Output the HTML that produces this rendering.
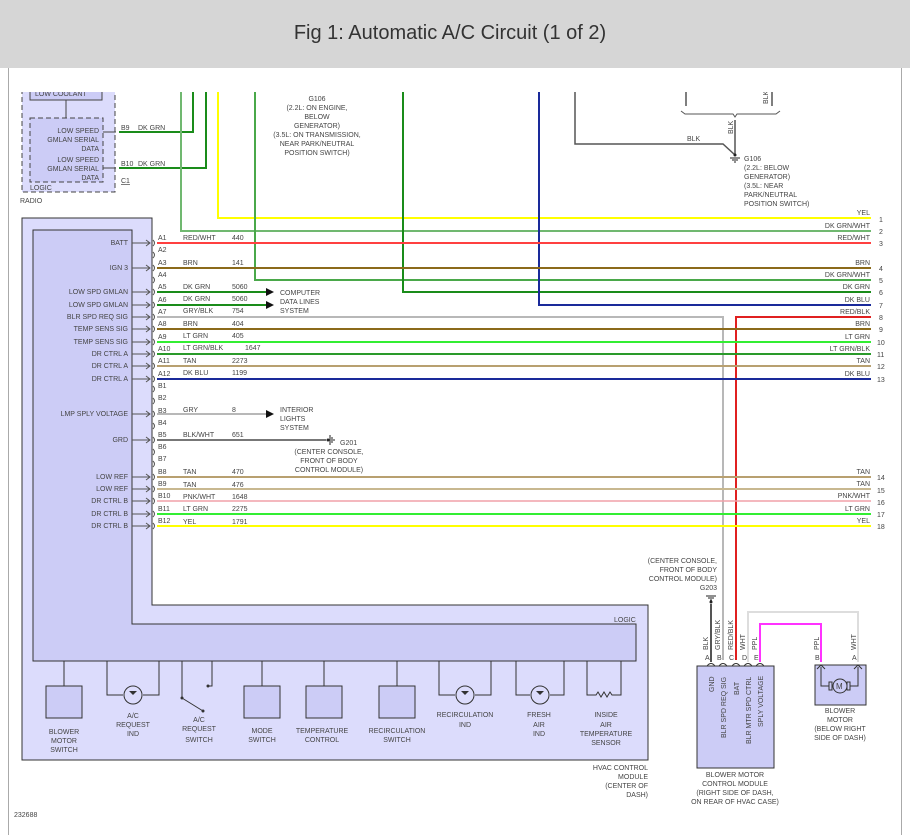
<!DOCTYPE html>
<html><head><meta charset="utf-8"><style>
body{margin:0;background:#fff;width:910px;height:835px;overflow:hidden}
svg{display:block}
text{font-family:"Liberation Sans",sans-serif;font-size:7px;fill:#444}
.t{font-size:20px;fill:#333}
</style></head><body>
<svg width="910" height="835" viewBox="0 0 910 835" xmlns="http://www.w3.org/2000/svg">
<rect x="0" y="0" width="910" height="68" fill="#d6d6d6"/>
<text class="t" x="450" y="39" text-anchor="middle">Fig 1: Automatic A/C Circuit (1 of 2)</text>

<!-- Radio -->
<rect x="22" y="84" width="93" height="108" fill="#dcdcfc" stroke="#444" stroke-dasharray="5,3"/>
<rect x="30" y="86" width="72" height="14" fill="#ccccf6" stroke="#444"/>
<text x="35" y="96">LOW COOLANT</text>
<line x1="66" y1="100" x2="66" y2="118" stroke="#444"/>
<rect x="30" y="118" width="73" height="64" fill="#ccccf6" stroke="#444" stroke-dasharray="5,3"/>
<g text-anchor="end"><text x="99" y="133">LOW SPEED</text><text x="99" y="142">GMLAN SERIAL</text><text x="99" y="151">DATA</text>
<text x="99" y="162">LOW SPEED</text><text x="99" y="171">GMLAN SERIAL</text><text x="99" y="180">DATA</text></g>
<text x="30" y="190">LOGIC</text><text x="20" y="203">RADIO</text>
<path d="M103 132h13M103 168h13" stroke="#444"/>
<text x="121" y="130">B9</text><text x="138" y="130">DK GRN</text>
<text x="121" y="166">B10</text><text x="138" y="166">DK GRN</text>
<text x="121" y="183" text-decoration="underline">C1</text>
<path d="M119 132H193V88M119 168H206V88" stroke="#1a8c1a" stroke-width="2" fill="none"/>

<!-- verticals from top -->
<path d="M181 88V231H871" stroke="#70b870" stroke-width="2" fill="none"/>
<path d="M218 88V218H871" stroke="#ffff00" stroke-width="2" fill="none"/>
<path d="M255 88V280H871" stroke="#4aa84a" stroke-width="2" fill="none"/>
<path d="M403 88V292H871" stroke="#1a8c1a" stroke-width="2" fill="none"/>
<path d="M539 88V305H871" stroke="#1a2a9a" stroke-width="2" fill="none"/>
<g text-anchor="middle"><text x="317" y="101">G106</text><text x="317" y="110">(2.2L: ON ENGINE,</text><text x="317" y="119">BELOW</text><text x="317" y="128">GENERATOR)</text><text x="317" y="137">(3.5L: ON TRANSMISSION,</text><text x="317" y="146">NEAR PARK/NEUTRAL</text><text x="317" y="155">POSITION SWITCH)</text></g>
<path d="M575 88V144H723L735 155M686 88V106M772 88V106M735 120V155" stroke="#555" stroke-width="1.5" fill="none"/>
<path d="M681 111l4 3H733l2 3l2-3H776l4-3" stroke="#555" fill="none"/>
<text x="687" y="141">BLK</text>
<text transform="translate(733,134) rotate(-90)">BLK</text>
<text transform="translate(768,104) rotate(-90)">BLK</text>
<path d="M730 158h10M732 160h6M734 162h2" stroke="#222"/><circle cx="735" cy="155" r="1.5" fill="#222"/>
<text x="744" y="161">G106</text><text x="744" y="170">(2.2L: BELOW</text><text x="744" y="179">GENERATOR)</text><text x="744" y="188">(3.5L: NEAR</text><text x="744" y="197">PARK/NEUTRAL</text><text x="744" y="206">POSITION SWITCH)</text>

<!-- clip top -->
<rect x="0" y="68" width="910" height="24" fill="#fff"/>
<line x1="8.5" y1="68" x2="8.5" y2="835" stroke="#aaa"/>
<line x1="901.5" y1="68" x2="901.5" y2="835" stroke="#aaa"/>

<!-- HVAC module -->
<path d="M22 218H152V605H648V760H22Z" fill="#dcdcfc" stroke="#333"/>
<path d="M33 230H132V624H636V661H33Z" fill="#ccccf6" stroke="#333"/>
<text x="614" y="622">LOGIC</text>
<g text-anchor="end">
<text x="128" y="245">BATT</text><text x="128" y="270">IGN 3</text><text x="128" y="294">LOW SPD GMLAN</text><text x="128" y="307">LOW SPD GMLAN</text><text x="128" y="319">BLR SPD REQ SIG</text><text x="128" y="331">TEMP SENS SIG</text><text x="128" y="344">TEMP SENS SIG</text><text x="128" y="356">DR CTRL A</text><text x="128" y="368">DR CTRL A</text><text x="128" y="381">DR CTRL A</text>
<text x="128" y="416">LMP SPLY VOLTAGE</text><text x="128" y="442">GRD</text><text x="128" y="479">LOW REF</text><text x="128" y="491">LOW REF</text><text x="128" y="503">DR CTRL B</text><text x="128" y="516">DR CTRL B</text><text x="128" y="528">DR CTRL B</text></g>
<g stroke="#555" fill="none">
<path d="M132 243h18M132 268h18M132 292h18M132 305h18M132 317h18M132 329h18M132 342h18M132 354h18M132 366h18M132 379h18M132 414h18M132 440h18M132 477h18M132 489h18M132 501h18M132 514h18M132 526h18"/>
<path d="M146 240l4 3l-4 3M146 265l4 3l-4 3M146 289l4 3l-4 3M146 302l4 3l-4 3M146 314l4 3l-4 3M146 326l4 3l-4 3M146 339l4 3l-4 3M146 351l4 3l-4 3M146 363l4 3l-4 3M146 376l4 3l-4 3M146 411l4 3l-4 3M146 437l4 3l-4 3M146 474l4 3l-4 3M146 486l4 3l-4 3M146 498l4 3l-4 3M146 511l4 3l-4 3M146 523l4 3l-4 3"/>
<path d="M153 240q3 3 0 6M153 252q3 3 0 6M153 265q3 3 0 6M153 277q3 3 0 6M153 289q3 3 0 6M153 302q3 3 0 6M153 314q3 3 0 6M153 326q3 3 0 6M153 339q3 3 0 6M153 351q3 3 0 6M153 363q3 3 0 6M153 376q3 3 0 6M153 386q3 3 0 6M153 398q3 3 0 6M153 411q3 3 0 6M153 423q3 3 0 6M153 437q3 3 0 6M153 449q3 3 0 6M153 461q3 3 0 6M153 474q3 3 0 6M153 486q3 3 0 6M153 498q3 3 0 6M153 511q3 3 0 6M153 523q3 3 0 6"/>
</g>
<g>
<text x="158" y="240">A1</text><text x="158" y="252">A2</text><text x="158" y="265">A3</text><text x="158" y="277">A4</text><text x="158" y="289">A5</text><text x="158" y="302">A6</text><text x="158" y="314">A7</text><text x="158" y="326">A8</text><text x="158" y="339">A9</text><text x="158" y="351">A10</text><text x="158" y="363">A11</text><text x="158" y="376">A12</text>
<text x="158" y="388">B1</text><text x="158" y="400">B2</text><text x="158" y="413">B3</text><text x="158" y="425">B4</text><text x="158" y="437">B5</text><text x="158" y="449">B6</text><text x="158" y="461">B7</text><text x="158" y="474">B8</text><text x="158" y="486">B9</text><text x="158" y="498">B10</text><text x="158" y="511">B11</text><text x="158" y="523">B12</text>
<text x="183" y="240">RED/WHT</text><text x="232" y="240">440</text>
<text x="183" y="265">BRN</text><text x="232" y="265">141</text>
<text x="183" y="289">DK GRN</text><text x="232" y="289">5060</text>
<text x="183" y="301">DK GRN</text><text x="232" y="301">5060</text>
<text x="183" y="313">GRY/BLK</text><text x="232" y="313">754</text>
<text x="183" y="326">BRN</text><text x="232" y="326">404</text>
<text x="183" y="338">LT GRN</text><text x="232" y="338">405</text>
<text x="183" y="350">LT GRN/BLK</text><text x="245" y="350">1647</text>
<text x="183" y="363">TAN</text><text x="232" y="363">2273</text>
<text x="183" y="375">DK BLU</text><text x="232" y="375">1199</text>
<text x="183" y="412">GRY</text><text x="232" y="412">8</text>
<text x="183" y="437">BLK/WHT</text><text x="232" y="437">651</text>
<text x="183" y="474">TAN</text><text x="232" y="474">470</text>
<text x="183" y="487">TAN</text><text x="232" y="487">476</text>
<text x="183" y="499">PNK/WHT</text><text x="232" y="499">1648</text>
<text x="183" y="511">LT GRN</text><text x="232" y="511">2275</text>
<text x="183" y="524">YEL</text><text x="232" y="524">1791</text>
</g>
<!-- harness wires -->
<g fill="none" stroke-width="2">
<path d="M157 243H871" stroke="#ff4040"/>
<path d="M157 268H871" stroke="#8b6a1a"/>
<path d="M157 292H266M157 305H266" stroke="#1a8c1a"/>
<path d="M157 317H723V660" stroke="#b8b8b8"/>
<path d="M871 317H736V660" stroke="#e02020"/>
<path d="M157 329H871" stroke="#8b6a1a"/>
<path d="M157 342H871" stroke="#33ee33"/>
<path d="M157 354H871" stroke="#2a9a2a"/>
<path d="M157 366H871" stroke="#b8a070"/>
<path d="M157 379H871" stroke="#1a2a9a"/>
<path d="M157 414H266" stroke="#b8b8b8"/>
<path d="M157 440H326" stroke="#777"/>
<path d="M157 477H871" stroke="#b8a070"/>
<path d="M157 489H871" stroke="#c8b890"/>
<path d="M157 501H871" stroke="#f0a0a8" stroke-width="1.5"/>
<path d="M157 514H871" stroke="#33ee33"/>
<path d="M157 526H871" stroke="#ffff00"/>
</g>
<path d="M266 288l8 4l-8 4ZM266 301l8 4l-8 4ZM266 410l8 4l-8 4Z" fill="#111"/>
<text x="280" y="295">COMPUTER</text><text x="280" y="304">DATA LINES</text><text x="280" y="313">SYSTEM</text>
<text x="280" y="412">INTERIOR</text><text x="280" y="421">LIGHTS</text><text x="280" y="430">SYSTEM</text>
<path d="M330 435v10M332 437v6M334 439v2" stroke="#222"/><circle cx="328" cy="440" r="1.5" fill="#222"/>
<text x="340" y="445">G201</text>
<g text-anchor="middle"><text x="329" y="454">(CENTER CONSOLE,</text><text x="329" y="463">FRONT OF BODY</text><text x="329" y="472">CONTROL MODULE)</text></g>
<!-- right labels -->
<g text-anchor="end">
<text x="870" y="215">YEL</text><text x="870" y="228">DK GRN/WHT</text><text x="870" y="240">RED/WHT</text><text x="870" y="265">BRN</text><text x="870" y="277">DK GRN/WHT</text><text x="870" y="289">DK GRN</text><text x="870" y="302">DK BLU</text><text x="870" y="314">RED/BLK</text><text x="870" y="326">BRN</text><text x="870" y="339">LT GRN</text><text x="870" y="351">LT GRN/BLK</text><text x="870" y="363">TAN</text><text x="870" y="376">DK BLU</text>
<text x="870" y="474">TAN</text><text x="870" y="486">TAN</text><text x="870" y="498">PNK/WHT</text><text x="870" y="511">LT GRN</text><text x="870" y="523">YEL</text></g>
<g>
<text x="879" y="222">1</text><text x="879" y="234">2</text><text x="879" y="246">3</text><text x="879" y="271">4</text><text x="879" y="283">5</text><text x="879" y="295">6</text><text x="879" y="308">7</text><text x="879" y="320">8</text><text x="879" y="332">9</text><text x="877" y="345">10</text><text x="877" y="357">11</text><text x="877" y="369">12</text><text x="877" y="382">13</text><text x="877" y="480">14</text><text x="877" y="493">15</text><text x="877" y="505">16</text><text x="877" y="517">17</text><text x="877" y="529">18</text></g>

<!-- bottom components -->
<g fill="#ccccf6" stroke="#333">
<rect x="46" y="686" width="36" height="32"/><rect x="244" y="686" width="36" height="32"/><rect x="306" y="686" width="36" height="32"/><rect x="379" y="686" width="36" height="32"/>
</g>
<g stroke="#333" fill="none">
<path d="M64 661v25M262 661v25M324 661v25M397 661v25"/>
<path d="M107 661v34h16M143 695h16v-34"/><circle cx="133" cy="695" r="9"/>
<path d="M439 661v34h16M475 695h16v-34"/><circle cx="465" cy="695" r="9"/>
<path d="M516 661v34h14M550 695h14v-34"/><circle cx="540" cy="695" r="9"/>
<path d="M182 661v37M182 698l21 13M212 661v25h-4"/>
<path d="M587 661v34h9l2-3 3 5 3-5 3 5 3-5 2 3h9v-34"/>
</g>
<path d="M129 691l4 4l4-4ZM461 691l4 4l4-4ZM536 691l4 4l4-4" fill="#333"/>
<circle cx="182" cy="698" r="1.5" fill="#333"/><circle cx="203" cy="711" r="1.5" fill="#333"/><circle cx="208" cy="686" r="1.5" fill="#333"/>
<g text-anchor="middle">
<text x="64" y="734">BLOWER</text><text x="64" y="743">MOTOR</text><text x="64" y="752">SWITCH</text>
<text x="133" y="718">A/C</text><text x="133" y="727">REQUEST</text><text x="133" y="736">IND</text>
<text x="199" y="722">A/C</text><text x="199" y="731">REQUEST</text><text x="199" y="742">SWITCH</text>
<text x="262" y="733">MODE</text><text x="262" y="742">SWITCH</text>
<text x="322" y="733">TEMPERATURE</text><text x="322" y="742">CONTROL</text>
<text x="397" y="733">RECIRCULATION</text><text x="397" y="742">SWITCH</text>
<text x="465" y="717">RECIRCULATION</text><text x="465" y="727">IND</text>
<text x="539" y="717">FRESH</text><text x="539" y="727">AIR</text><text x="539" y="736">IND</text>
<text x="606" y="717">INSIDE</text><text x="606" y="727">AIR</text><text x="606" y="736">TEMPERATURE</text><text x="606" y="745">SENSOR</text>
</g>
<g text-anchor="end"><text x="648" y="770">HVAC CONTROL</text><text x="648" y="779">MODULE</text><text x="648" y="788">(CENTER OF</text><text x="648" y="797">DASH)</text></g>
<text x="14" y="817">232688</text>

<!-- BMCM -->
<g text-anchor="end"><text x="717" y="563">(CENTER CONSOLE,</text><text x="717" y="572">FRONT OF BODY</text><text x="717" y="581">CONTROL MODULE)</text><text x="717" y="590">G203</text></g>
<path d="M706 596h10M708 598h6M710 600h2" stroke="#222"/><circle cx="711" cy="602" r="1.5" fill="#222"/>
<path d="M711 604V662" stroke="#555" stroke-width="2"/>
<path d="M748 662V612H858V662" stroke="#ddd" stroke-width="2" fill="none"/>
<path d="M760 662V624H821V662" stroke="#ff33ff" stroke-width="2" fill="none"/>
<rect x="697" y="666" width="77" height="102" fill="#ccccf6" stroke="#333"/>
<g><text transform="translate(708,650) rotate(-90)">BLK</text><text transform="translate(720,650) rotate(-90)">GRY/BLK</text><text transform="translate(733,650) rotate(-90)">RED/BLK</text><text transform="translate(745,650) rotate(-90)">WHT</text><text transform="translate(757,650) rotate(-90)">PPL</text>
<text transform="translate(819,650) rotate(-90)">PPL</text><text transform="translate(856,650) rotate(-90)">WHT</text>
<text x="705" y="660">A</text><text x="717" y="660">B</text><text x="729" y="660">C</text><text x="742" y="660">D</text><text x="754" y="660">E</text><text x="815" y="660">B</text><text x="852" y="660">A</text>
<text transform="translate(714,692) rotate(-90)">GND</text><text transform="translate(726,738) rotate(-90)">BLR SPD REQ SIG</text><text transform="translate(739,695) rotate(-90)">BAT</text><text transform="translate(751,744) rotate(-90)">BLR MTR SPD CTRL</text><text transform="translate(763,727) rotate(-90)">SPLY VOLTAGE</text></g>
<path d="M707 666q4-5 8 0M719 666q4-5 8 0M732 666q4-5 8 0M744 666q4-5 8 0M756 666q4-5 8 0" stroke="#333" fill="none"/>
<rect x="815" y="665" width="51" height="40" fill="#ccccf6" stroke="#333"/>
<path d="M821 667v19h8M850 686h8v-19M817 669l4-4l4 4M854 669l4-4l4 4" stroke="#333" fill="none"/>
<rect x="829" y="682" width="3" height="8" fill="none" stroke="#333"/><rect x="847" y="682" width="3" height="8" fill="none" stroke="#333"/>
<circle cx="840" cy="686" r="7" fill="none" stroke="#333"/><text x="836" y="689" style="font-size:8px">M</text>
<g text-anchor="middle"><text x="840" y="713">BLOWER</text><text x="840" y="722">MOTOR</text><text x="840" y="731">(BELOW RIGHT</text><text x="840" y="740">SIDE OF DASH)</text>
<text x="735" y="777">BLOWER MOTOR</text><text x="735" y="786">CONTROL MODULE</text><text x="735" y="795">(RIGHT SIDE OF DASH,</text><text x="735" y="804">ON REAR OF HVAC CASE)</text></g>
</svg>
</body></html>
